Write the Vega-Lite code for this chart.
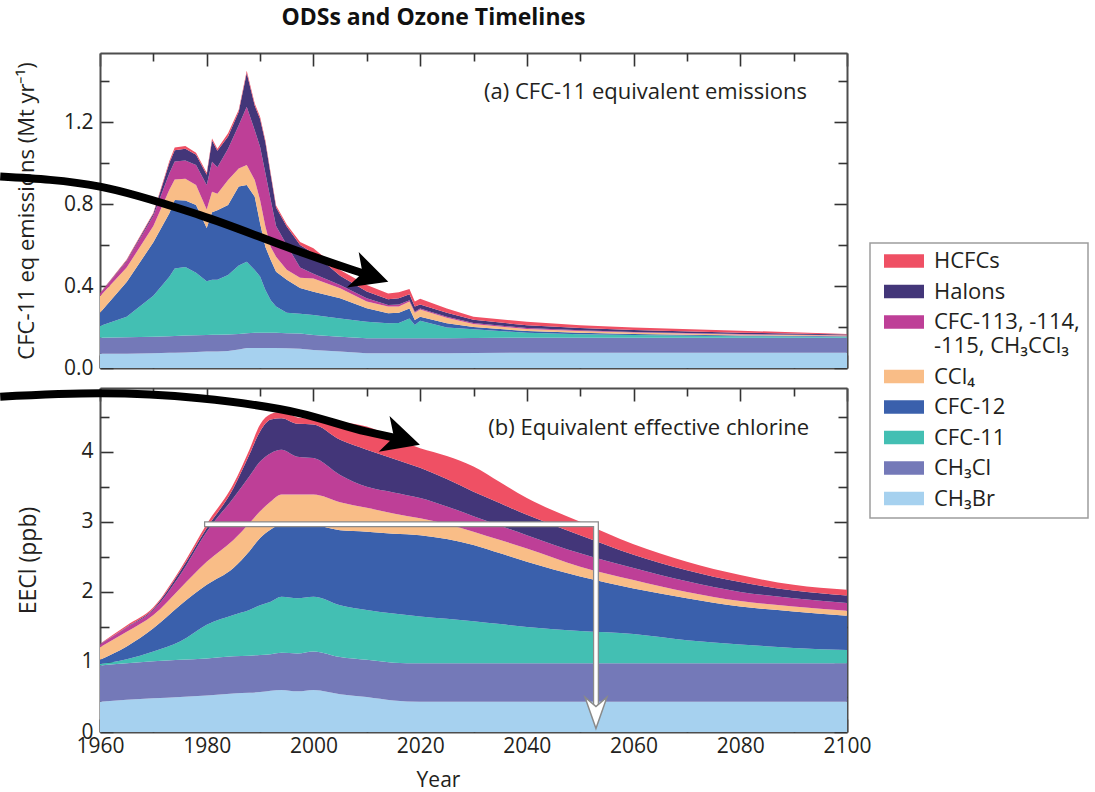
{
  "$schema": "https://vega.github.io/schema/vega-lite/v6.json",
  "autosize": {"type": "pad"},
  "padding": {"left": -16, "top": 7, "right": 3, "bottom": 4},
  "background": "white",
  "title": {
    "text": "ODSs and Ozone Timelines",
    "font": "Open Sans",
    "fontSize": 23,
    "fontWeight": "bold",
    "color": "#111111",
    "anchor": "middle",
    "dx": -103,
    "offset": 22
  },
  "bounds": "flush",
  "spacing": 20,
  "config": {
    "view": {"stroke": null},
    "font": "Open Sans",
    "axis": {
      "grid": false,
      "labelFlush": false,
      "labelOverlap": false,
      "labelBound": false,
      "domainColor": "#4d4d4d",
      "domainWidth": 2,
      "tickColor": "#333333",
      "tickWidth": 1.6,
      "labelFont": "Open Sans",
      "labelFontSize": 21,
      "labelColor": "#231f20",
      "titleFont": "Open Sans",
      "titleFontSize": 22,
      "titleFontWeight": "normal",
      "titleColor": "#231f20",
      "zindex": 1
    },
    "legend": {"strokeWidth": 1.5}
  },
  "datasets": {
    "species": [
      {"key": "CH3Br", "k": 1, "label": "CH₃Br"},
      {"key": "CH3Cl", "k": 2, "label": "CH₃Cl"},
      {"key": "CFC11", "k": 3, "label": "CFC-11"},
      {"key": "CFC12", "k": 4, "label": "CFC-12"},
      {"key": "CCl4", "k": 5, "label": "CCl₄"},
      {"key": "CFC113", "k": 6, "label": "CFC-113, -114, -115, CH₃CCl₃"},
      {"key": "Halons", "k": 7, "label": "Halons"},
      {"key": "HCFCs", "k": 8, "label": "HCFCs"}
    ],
    "emis": [
      {"year": 1960, "CH3Br": 0.070, "CH3Cl": 0.078, "CFC11": 0.057, "CFC12": 0.065, "CCl4": 0.080, "CFC113": 0.014, "Halons": 0.001, "HCFCs": 0.001},
      {"year": 1965, "CH3Br": 0.070, "CH3Cl": 0.080, "CFC11": 0.100, "CFC12": 0.170, "CCl4": 0.070, "CFC113": 0.030, "Halons": 0.005, "HCFCs": 0.005},
      {"year": 1970, "CH3Br": 0.072, "CH3Cl": 0.081, "CFC11": 0.200, "CFC12": 0.260, "CCl4": 0.080, "CFC113": 0.050, "Halons": 0.010, "HCFCs": 0.005},
      {"year": 1973, "CH3Br": 0.074, "CH3Cl": 0.081, "CFC11": 0.290, "CFC12": 0.310, "CCl4": 0.115, "CFC113": 0.080, "Halons": 0.050, "HCFCs": 0.010},
      {"year": 1974, "CH3Br": 0.075, "CH3Cl": 0.081, "CFC11": 0.330, "CFC12": 0.334, "CCl4": 0.100, "CFC113": 0.087, "Halons": 0.056, "HCFCs": 0.013},
      {"year": 1976, "CH3Br": 0.076, "CH3Cl": 0.082, "CFC11": 0.335, "CFC12": 0.324, "CCl4": 0.107, "CFC113": 0.089, "Halons": 0.057, "HCFCs": 0.013},
      {"year": 1978, "CH3Br": 0.078, "CH3Cl": 0.082, "CFC11": 0.305, "CFC12": 0.330, "CCl4": 0.098, "CFC113": 0.097, "Halons": 0.050, "HCFCs": 0.010},
      {"year": 1980, "CH3Br": 0.080, "CH3Cl": 0.081, "CFC11": 0.262, "CFC12": 0.260, "CCl4": 0.090, "CFC113": 0.120, "Halons": 0.050, "HCFCs": 0.010},
      {"year": 1981, "CH3Br": 0.080, "CH3Cl": 0.082, "CFC11": 0.268, "CFC12": 0.330, "CCl4": 0.100, "CFC113": 0.146, "Halons": 0.104, "HCFCs": 0.010},
      {"year": 1982, "CH3Br": 0.081, "CH3Cl": 0.081, "CFC11": 0.268, "CFC12": 0.340, "CCl4": 0.080, "CFC113": 0.130, "Halons": 0.080, "HCFCs": 0.010},
      {"year": 1984, "CH3Br": 0.083, "CH3Cl": 0.080, "CFC11": 0.291, "CFC12": 0.341, "CCl4": 0.122, "CFC113": 0.153, "Halons": 0.060, "HCFCs": 0.015},
      {"year": 1986, "CH3Br": 0.090, "CH3Cl": 0.076, "CFC11": 0.334, "CFC12": 0.385, "CCl4": 0.089, "CFC113": 0.211, "Halons": 0.065, "HCFCs": 0.010},
      {"year": 1987.5, "CH3Br": 0.097, "CH3Cl": 0.073, "CFC11": 0.348, "CFC12": 0.375, "CCl4": 0.097, "CFC113": 0.285, "Halons": 0.165, "HCFCs": 0.010},
      {"year": 1989, "CH3Br": 0.097, "CH3Cl": 0.075, "CFC11": 0.306, "CFC12": 0.358, "CCl4": 0.081, "CFC113": 0.243, "Halons": 0.120, "HCFCs": 0.010},
      {"year": 1990, "CH3Br": 0.097, "CH3Cl": 0.075, "CFC11": 0.274, "CFC12": 0.260, "CCl4": 0.114, "CFC113": 0.260, "Halons": 0.135, "HCFCs": 0.011},
      {"year": 1991, "CH3Br": 0.097, "CH3Cl": 0.075, "CFC11": 0.208, "CFC12": 0.210, "CCl4": 0.100, "CFC113": 0.260, "Halons": 0.150, "HCFCs": 0.010},
      {"year": 1992, "CH3Br": 0.097, "CH3Cl": 0.075, "CFC11": 0.158, "CFC12": 0.197, "CCl4": 0.063, "CFC113": 0.230, "Halons": 0.120, "HCFCs": 0.010},
      {"year": 1993, "CH3Br": 0.097, "CH3Cl": 0.075, "CFC11": 0.128, "CFC12": 0.170, "CCl4": 0.073, "CFC113": 0.150, "Halons": 0.090, "HCFCs": 0.010},
      {"year": 1995, "CH3Br": 0.096, "CH3Cl": 0.074, "CFC11": 0.100, "CFC12": 0.160, "CCl4": 0.050, "CFC113": 0.120, "Halons": 0.090, "HCFCs": 0.010},
      {"year": 1997.5, "CH3Br": 0.094, "CH3Cl": 0.074, "CFC11": 0.097, "CFC12": 0.125, "CCl4": 0.050, "CFC113": 0.050, "Halons": 0.110, "HCFCs": 0.015},
      {"year": 2000, "CH3Br": 0.088, "CH3Cl": 0.073, "CFC11": 0.098, "CFC12": 0.113, "CCl4": 0.065, "CFC113": 0.023, "Halons": 0.100, "HCFCs": 0.024},
      {"year": 2005, "CH3Br": 0.080, "CH3Cl": 0.073, "CFC11": 0.089, "CFC12": 0.098, "CCl4": 0.049, "CFC113": 0.016, "Halons": 0.045, "HCFCs": 0.028},
      {"year": 2010, "CH3Br": 0.072, "CH3Cl": 0.073, "CFC11": 0.081, "CFC12": 0.065, "CCl4": 0.033, "CFC113": 0.016, "Halons": 0.033, "HCFCs": 0.032},
      {"year": 2014, "CH3Br": 0.072, "CH3Cl": 0.073, "CFC11": 0.073, "CFC12": 0.049, "CCl4": 0.033, "CFC113": 0.007, "Halons": 0.028, "HCFCs": 0.029},
      {"year": 2016, "CH3Br": 0.072, "CH3Cl": 0.073, "CFC11": 0.075, "CFC12": 0.050, "CCl4": 0.030, "CFC113": 0.010, "Halons": 0.030, "HCFCs": 0.030},
      {"year": 2018, "CH3Br": 0.072, "CH3Cl": 0.073, "CFC11": 0.097, "CFC12": 0.048, "CCl4": 0.035, "CFC113": 0.005, "Halons": 0.030, "HCFCs": 0.025},
      {"year": 2019, "CH3Br": 0.072, "CH3Cl": 0.073, "CFC11": 0.065, "CFC12": 0.024, "CCl4": 0.036, "CFC113": 0.005, "Halons": 0.025, "HCFCs": 0.024},
      {"year": 2020, "CH3Br": 0.072, "CH3Cl": 0.073, "CFC11": 0.086, "CFC12": 0.019, "CCl4": 0.035, "CFC113": 0.005, "Halons": 0.020, "HCFCs": 0.028},
      {"year": 2025, "CH3Br": 0.072, "CH3Cl": 0.073, "CFC11": 0.053, "CFC12": 0.020, "CCl4": 0.027, "CFC113": 0.005, "Halons": 0.020, "HCFCs": 0.020},
      {"year": 2030, "CH3Br": 0.073, "CH3Cl": 0.073, "CFC11": 0.043, "CFC12": 0.011, "CCl4": 0.015, "CFC113": 0.005, "Halons": 0.015, "HCFCs": 0.015},
      {"year": 2040, "CH3Br": 0.075, "CH3Cl": 0.073, "CFC11": 0.024, "CFC12": 0.008, "CCl4": 0.010, "CFC113": 0.005, "Halons": 0.013, "HCFCs": 0.018},
      {"year": 2050, "CH3Br": 0.075, "CH3Cl": 0.073, "CFC11": 0.017, "CFC12": 0.007, "CCl4": 0.008, "CFC113": 0.004, "Halons": 0.011, "HCFCs": 0.013},
      {"year": 2060, "CH3Br": 0.075, "CH3Cl": 0.073, "CFC11": 0.013, "CFC12": 0.005, "CCl4": 0.007, "CFC113": 0.003, "Halons": 0.009, "HCFCs": 0.013},
      {"year": 2080, "CH3Br": 0.075, "CH3Cl": 0.073, "CFC11": 0.007, "CFC12": 0.004, "CCl4": 0.005, "CFC113": 0.002, "Halons": 0.006, "HCFCs": 0.010},
      {"year": 2100, "CH3Br": 0.075, "CH3Cl": 0.073, "CFC11": 0.005, "CFC12": 0.002, "CCl4": 0.003, "CFC113": 0.002, "Halons": 0.004, "HCFCs": 0.002}
    ],
    "eecl": [
      {"year": 1960, "CH3Br": 0.43, "CH3Cl": 0.52, "CFC11": 0.02, "CFC12": 0.06, "CCl4": 0.18, "CFC113": 0.04, "Halons": 0.005, "HCFCs": 0.005},
      {"year": 1965, "CH3Br": 0.46, "CH3Cl": 0.52, "CFC11": 0.06, "CFC12": 0.18, "CCl4": 0.21, "CFC113": 0.06, "Halons": 0.01, "HCFCs": 0.02},
      {"year": 1970, "CH3Br": 0.48, "CH3Cl": 0.53, "CFC11": 0.14, "CFC12": 0.33, "CCl4": 0.19, "CFC113": 0.07, "Halons": 0.02, "HCFCs": 0.02},
      {"year": 1975, "CH3Br": 0.50, "CH3Cl": 0.53, "CFC11": 0.26, "CFC12": 0.52, "CCl4": 0.24, "CFC113": 0.19, "Halons": 0.05, "HCFCs": 0.03},
      {"year": 1980, "CH3Br": 0.52, "CH3Cl": 0.53, "CFC11": 0.48, "CFC12": 0.57, "CCl4": 0.33, "CFC113": 0.43, "Halons": 0.05, "HCFCs": 0.06},
      {"year": 1985, "CH3Br": 0.55, "CH3Cl": 0.53, "CFC11": 0.59, "CFC12": 0.67, "CCl4": 0.40, "CFC113": 0.60, "Halons": 0.14, "HCFCs": 0.06},
      {"year": 1988, "CH3Br": 0.56, "CH3Cl": 0.53, "CFC11": 0.65, "CFC12": 0.84, "CCl4": 0.40, "CFC113": 0.67, "Halons": 0.31, "HCFCs": 0.07},
      {"year": 1990, "CH3Br": 0.57, "CH3Cl": 0.53, "CFC11": 0.71, "CFC12": 0.96, "CCl4": 0.38, "CFC113": 0.71, "Halons": 0.43, "HCFCs": 0.10},
      {"year": 1992, "CH3Br": 0.59, "CH3Cl": 0.52, "CFC11": 0.75, "CFC12": 1.03, "CCl4": 0.40, "CFC113": 0.69, "Halons": 0.48, "HCFCs": 0.08},
      {"year": 1994, "CH3Br": 0.60, "CH3Cl": 0.53, "CFC11": 0.80, "CFC12": 1.03, "CCl4": 0.43, "CFC113": 0.64, "Halons": 0.45, "HCFCs": 0.09},
      {"year": 1997, "CH3Br": 0.58, "CH3Cl": 0.54, "CFC11": 0.79, "CFC12": 1.07, "CCl4": 0.41, "CFC113": 0.54, "Halons": 0.47, "HCFCs": 0.09},
      {"year": 2000, "CH3Br": 0.60, "CH3Cl": 0.55, "CFC11": 0.78, "CFC12": 1.03, "CCl4": 0.43, "CFC113": 0.52, "Halons": 0.48, "HCFCs": 0.08},
      {"year": 2005, "CH3Br": 0.54, "CH3Cl": 0.53, "CFC11": 0.74, "CFC12": 1.07, "CCl4": 0.40, "CFC113": 0.39, "Halons": 0.50, "HCFCs": 0.25},
      {"year": 2010, "CH3Br": 0.50, "CH3Cl": 0.53, "CFC11": 0.71, "CFC12": 1.12, "CCl4": 0.34, "CFC113": 0.30, "Halons": 0.53, "HCFCs": 0.33},
      {"year": 2015, "CH3Br": 0.45, "CH3Cl": 0.54, "CFC11": 0.70, "CFC12": 1.14, "CCl4": 0.29, "CFC113": 0.30, "Halons": 0.48, "HCFCs": 0.30},
      {"year": 2020, "CH3Br": 0.43, "CH3Cl": 0.55, "CFC11": 0.67, "CFC12": 1.16, "CCl4": 0.24, "CFC113": 0.29, "Halons": 0.43, "HCFCs": 0.28},
      {"year": 2025, "CH3Br": 0.43, "CH3Cl": 0.55, "CFC11": 0.635, "CFC12": 1.14, "CCl4": 0.21, "CFC113": 0.255, "Halons": 0.39, "HCFCs": 0.33},
      {"year": 2030, "CH3Br": 0.43, "CH3Cl": 0.55, "CFC11": 0.60, "CFC12": 1.09, "CCl4": 0.19, "CFC113": 0.22, "Halons": 0.35, "HCFCs": 0.36},
      {"year": 2035, "CH3Br": 0.43, "CH3Cl": 0.55, "CFC11": 0.56, "CFC12": 1.01, "CCl4": 0.19, "CFC113": 0.205, "Halons": 0.32, "HCFCs": 0.30},
      {"year": 2040, "CH3Br": 0.43, "CH3Cl": 0.55, "CFC11": 0.52, "CFC12": 0.93, "CCl4": 0.19, "CFC113": 0.19, "Halons": 0.29, "HCFCs": 0.24},
      {"year": 2050, "CH3Br": 0.43, "CH3Cl": 0.55, "CFC11": 0.46, "CFC12": 0.78, "CCl4": 0.14, "CFC113": 0.19, "Halons": 0.26, "HCFCs": 0.19},
      {"year": 2060, "CH3Br": 0.43, "CH3Cl": 0.55, "CFC11": 0.42, "CFC12": 0.65, "CCl4": 0.12, "CFC113": 0.17, "Halons": 0.19, "HCFCs": 0.15},
      {"year": 2070, "CH3Br": 0.43, "CH3Cl": 0.55, "CFC11": 0.33, "CFC12": 0.60, "CCl4": 0.09, "CFC113": 0.15, "Halons": 0.16, "HCFCs": 0.12},
      {"year": 2080, "CH3Br": 0.43, "CH3Cl": 0.55, "CFC11": 0.27, "CFC12": 0.54, "CCl4": 0.08, "CFC113": 0.13, "Halons": 0.14, "HCFCs": 0.10},
      {"year": 2090, "CH3Br": 0.43, "CH3Cl": 0.55, "CFC11": 0.22, "CFC12": 0.52, "CCl4": 0.07, "CFC113": 0.12, "Halons": 0.11, "HCFCs": 0.08},
      {"year": 2100, "CH3Br": 0.43, "CH3Cl": 0.55, "CFC11": 0.19, "CFC12": 0.49, "CCl4": 0.07, "CFC113": 0.11, "Halons": 0.11, "HCFCs": 0.08}
    ],
    "arrowA": [
      {"year": 1941.3, "value": 0.934},
      {"year": 1960, "value": 0.885},
      {"year": 1978.7, "value": 0.746},
      {"year": 1997.5, "value": 0.567},
      {"year": 2007.4, "value": 0.478},
      {"year": 2010.7, "value": 0.450}
    ],
    "headA": [{"year": 2010.7, "value": 0.450}],
    "arrowB": [
      {"year": 1941.3, "value": 4.786},
      {"year": 1960, "value": 4.834},
      {"year": 1978.7, "value": 4.763},
      {"year": 1997.5, "value": 4.549},
      {"year": 2010, "value": 4.286},
      {"year": 2016.6, "value": 4.177}
    ],
    "headB": [{"year": 2016.6, "value": 4.177}],
    "recovery": [
      {"year": 1980.05, "value": 2.967},
      {"year": 2052.95, "value": 2.967},
      {"year": 2052.95, "value": 0.33}
    ],
    "recoveryHead": [{"year": 2052.95, "value": 0.273}]
  },
  "resolve": {"scale": {"color": "independent"}, "legend": {"color": "independent"}},
  "vconcat": [
    {
      "width": 747,
      "height": 315,
      "layer": [
        {
          "data": {"name": "emis"},
          "transform": [
            {"fold": ["CH3Br", "CH3Cl", "CFC11", "CFC12", "CCl4", "CFC113", "Halons", "HCFCs"], "as": ["key", "value"]},
            {"lookup": "key", "from": {"data": {"name": "species"}, "key": "key", "fields": ["k", "label"]}}
          ],
          "mark": {"type": "area", "interpolate": "linear"},
          "encoding": {
            "x": {
              "field": "year", "type": "quantitative",
              "scale": {"domain": [1960, 2100], "nice": false, "zero": false},
              "axis": {"orient": "bottom", "values": [1960, 1980, 2000, 2020, 2040, 2060, 2080, 2100], "tickSize": -13, "labels": false, "title": null}
            },
            "y": {
              "field": "value", "type": "quantitative", "stack": "zero",
              "scale": {"domain": [0, 1.537], "nice": false},
              "axis": {"orient": "left", "values": [0, 0.4, 0.8, 1.2], "format": ".1f", "tickSize": -13, "labelPadding": 20, "title": "CFC-11 eq emissions (Mt yr⁻¹)", "titlePadding": 25}
            },
            "color": {
              "field": "label", "type": "nominal",
              "scale": {
                "domain": ["HCFCs", "Halons", "CFC-113, -114, -115, CH₃CCl₃", "CCl₄", "CFC-12", "CFC-11", "CH₃Cl", "CH₃Br"],
                "range": ["#ef5064", "#433679", "#be3f97", "#f9bd87", "#3a60ac", "#43bfb3", "#7479b8", "#a6d1ef"]
              },
              "legend": {
                "orient": "none",
                "legendX": 770,
                "legendY": 190,
                "title": null,
                "symbolType": "M-1,-0.34L1,-0.34L1,0.34L-1,0.34Z",
                "symbolSize": 1600,
                "symbolStrokeWidth": 0,
                "clipHeight": 20,
                "labelFont": "Open Sans",
                "labelFontSize": 22,
                "labelColor": "#231f20",
                "labelOffset": 10,
                "labelLimit": 300,
                "rowPadding": 8.5,
                "padding": 8,
                "symbolOffset": 6,
                "strokeColor": "#9d9d9d",
                "fillColor": "#ffffff",
                "labelExpr": "indexof(datum.label, 'CFC-113') === 0 ? ['CFC-113, -114,', '-115, CH₃CCl₃'] : datum.label"
              }
            },
            "order": {"field": "k", "type": "quantitative"}
          }
        },
        {
          "data": {"name": "arrowA"},
          "mark": {"type": "line", "color": "#000000", "strokeWidth": 8, "interpolate": "monotone", "clip": false, "strokeCap": "butt"},
          "encoding": {
            "x": {
              "field": "year", "type": "quantitative",
              "scale": {"domain": [1960, 2100], "nice": false, "zero": false},
              "axis": {"orient": "bottom", "values": [1970, 1990, 2010, 2030, 2050, 2070, 2090], "tickSize": -8, "labels": false, "domain": false, "title": null}
            },
            "y": {
              "field": "value", "type": "quantitative",
              "scale": {"domain": [0, 1.537], "nice": false},
              "axis": {"orient": "left", "values": [0.2, 0.6, 1.0, 1.4], "tickSize": -9, "labels": false, "domain": false, "title": null}
            }
          }
        },
        {
          "data": {"name": "headA"},
          "mark": {"type": "point", "shape": "M1,0L-1,-1L-0.45,0L-1,1Z", "filled": true, "color": "#000000", "opacity": 1, "size": 1406, "angle": 18.5, "clip": false},
          "encoding": {
            "x": {
              "field": "year", "type": "quantitative",
              "scale": {"domain": [1960, 2100], "nice": false, "zero": false},
              "axis": {"orient": "top", "values": [1960, 1980, 2000, 2020, 2040, 2060, 2080, 2100], "tickSize": -13, "labels": false, "title": null}
            },
            "y": {
              "field": "value", "type": "quantitative",
              "scale": {"domain": [0, 1.537], "nice": false},
              "axis": {"orient": "right", "values": [0, 0.4, 0.8, 1.2], "tickSize": -13, "labels": false, "title": null}
            }
          }
        },
        {
          "data": {"values": [{}]},
          "mark": {"type": "text", "text": "(a) CFC-11 equivalent emissions", "align": "right", "baseline": "middle", "font": "Open Sans", "fontSize": 22, "color": "#231f20"},
          "encoding": {
            "x": {
              "datum": 2092.5, "type": "quantitative",
              "scale": {"domain": [1960, 2100], "nice": false, "zero": false},
              "axis": {"orient": "top", "values": [1970, 1990, 2010, 2030, 2050, 2070, 2090], "tickSize": -8, "labels": false, "domain": false, "title": null}
            },
            "y": {
              "datum": 1.348, "type": "quantitative",
              "scale": {"domain": [0, 1.537], "nice": false},
              "axis": {"orient": "right", "values": [0.2, 0.6, 1.0, 1.4], "tickSize": -9, "labels": false, "domain": false, "title": null}
            }
          }
        }
      ],
      "resolve": {"axis": {"x": "independent", "y": "independent"}}
    },
    {
      "width": 747,
      "height": 344,
      "layer": [
        {
          "data": {"name": "eecl"},
          "transform": [
            {"fold": ["CH3Br", "CH3Cl", "CFC11", "CFC12", "CCl4", "CFC113", "Halons", "HCFCs"], "as": ["key", "value"]},
            {"lookup": "key", "from": {"data": {"name": "species"}, "key": "key", "fields": ["k", "label"]}}
          ],
          "mark": {"type": "area", "interpolate": "monotone"},
          "encoding": {
            "x": {
              "field": "year", "type": "quantitative",
              "scale": {"domain": [1960, 2100], "nice": false, "zero": false},
              "axis": {"orient": "bottom", "values": [1960, 1980, 2000, 2020, 2040, 2060, 2080, 2100], "format": "d", "tickSize": -13, "labelPadding": 16, "title": "Year", "titleFontSize": 21, "titlePadding": 13, "titleX": 338}
            },
            "y": {
              "field": "value", "type": "quantitative", "stack": "zero",
              "scale": {"domain": [0, 4.91], "nice": false},
              "axis": {"orient": "left", "values": [0, 1, 2, 3, 4], "format": "d", "tickSize": -13, "labelPadding": 20, "title": "EECl (ppb)", "titleFontSize": 23, "titlePadding": 40}
            },
            "color": {
              "field": "label", "type": "nominal",
              "scale": {
                "domain": ["HCFCs", "Halons", "CFC-113, -114, -115, CH₃CCl₃", "CCl₄", "CFC-12", "CFC-11", "CH₃Cl", "CH₃Br"],
                "range": ["#ef5064", "#433679", "#be3f97", "#f9bd87", "#3a60ac", "#43bfb3", "#7479b8", "#a6d1ef"]
              },
              "legend": null
            },
            "order": {"field": "k", "type": "quantitative"}
          }
        },
        {
          "data": {"name": "recovery"},
          "mark": {"type": "line", "color": "#8a8a8a", "strokeWidth": 6, "interpolate": "linear", "strokeCap": "square", "strokeJoin": "miter"},
          "encoding": {
            "x": {"field": "year", "type": "quantitative", "scale": {"domain": [1960, 2100], "nice": false, "zero": false}, "axis": null},
            "y": {"field": "value", "type": "quantitative", "scale": {"domain": [0, 4.91], "nice": false}, "axis": null},
            "order": {"value": null}
          }
        },
        {
          "data": {"name": "recovery"},
          "mark": {"type": "line", "color": "#ffffff", "strokeWidth": 3.5, "interpolate": "linear", "strokeCap": "square", "strokeJoin": "miter"},
          "encoding": {
            "x": {"field": "year", "type": "quantitative", "scale": {"domain": [1960, 2100], "nice": false, "zero": false}, "axis": null},
            "y": {"field": "value", "type": "quantitative", "scale": {"domain": [0, 4.91], "nice": false}, "axis": null},
            "order": {"value": null}
          }
        },
        {
          "data": {"name": "recoveryHead"},
          "mark": {"type": "point", "shape": "M1,0L-1,-0.7L-0.4,0L-1,0.7Z", "filled": true, "fill": "#ffffff", "stroke": "#8a8a8a", "strokeWidth": 1.5, "opacity": 1, "size": 986, "angle": 90},
          "encoding": {
            "x": {"field": "year", "type": "quantitative", "scale": {"domain": [1960, 2100], "nice": false, "zero": false}, "axis": null},
            "y": {"field": "value", "type": "quantitative", "scale": {"domain": [0, 4.91], "nice": false}, "axis": null}
          }
        },
        {
          "data": {"name": "arrowB"},
          "mark": {"type": "line", "color": "#000000", "strokeWidth": 8, "interpolate": "monotone", "clip": false, "strokeCap": "butt"},
          "encoding": {
            "x": {
              "field": "year", "type": "quantitative",
              "scale": {"domain": [1960, 2100], "nice": false, "zero": false},
              "axis": {"orient": "bottom", "values": [1970, 1990, 2010, 2030, 2050, 2070, 2090], "tickSize": -8, "labels": false, "domain": false, "title": null}
            },
            "y": {
              "field": "value", "type": "quantitative",
              "scale": {"domain": [0, 4.91], "nice": false},
              "axis": {"orient": "left", "values": [0.5, 1.5, 2.5, 3.5, 4.5], "tickSize": -9, "labels": false, "domain": false, "title": null}
            }
          }
        },
        {
          "data": {"name": "headB"},
          "mark": {"type": "point", "shape": "M1,0L-1,-1L-0.45,0L-1,1Z", "filled": true, "color": "#000000", "opacity": 1, "size": 1399, "angle": 16.9, "clip": false},
          "encoding": {
            "x": {
              "field": "year", "type": "quantitative",
              "scale": {"domain": [1960, 2100], "nice": false, "zero": false},
              "axis": {"orient": "top", "values": [1960, 1980, 2000, 2020, 2040, 2060, 2080, 2100], "tickSize": -13, "labels": false, "title": null}
            },
            "y": {
              "field": "value", "type": "quantitative",
              "scale": {"domain": [0, 4.91], "nice": false},
              "axis": {"orient": "right", "values": [0, 1, 2, 3, 4], "tickSize": -13, "labels": false, "title": null}
            }
          }
        },
        {
          "data": {"values": [{}]},
          "mark": {"type": "text", "text": "(b) Equivalent effective chlorine", "align": "right", "baseline": "middle", "font": "Open Sans", "fontSize": 22, "color": "#231f20"},
          "encoding": {
            "x": {
              "datum": 2092.9, "type": "quantitative",
              "scale": {"domain": [1960, 2100], "nice": false, "zero": false},
              "axis": {"orient": "top", "values": [1970, 1990, 2010, 2030, 2050, 2070, 2090], "tickSize": -8, "labels": false, "domain": false, "title": null}
            },
            "y": {
              "datum": 4.334, "type": "quantitative",
              "scale": {"domain": [0, 4.91], "nice": false},
              "axis": {"orient": "right", "values": [0.5, 1.5, 2.5, 3.5, 4.5], "tickSize": -9, "labels": false, "domain": false, "title": null}
            }
          }
        }
      ],
      "resolve": {"axis": {"x": "independent", "y": "independent"}}
    }
  ]
}
